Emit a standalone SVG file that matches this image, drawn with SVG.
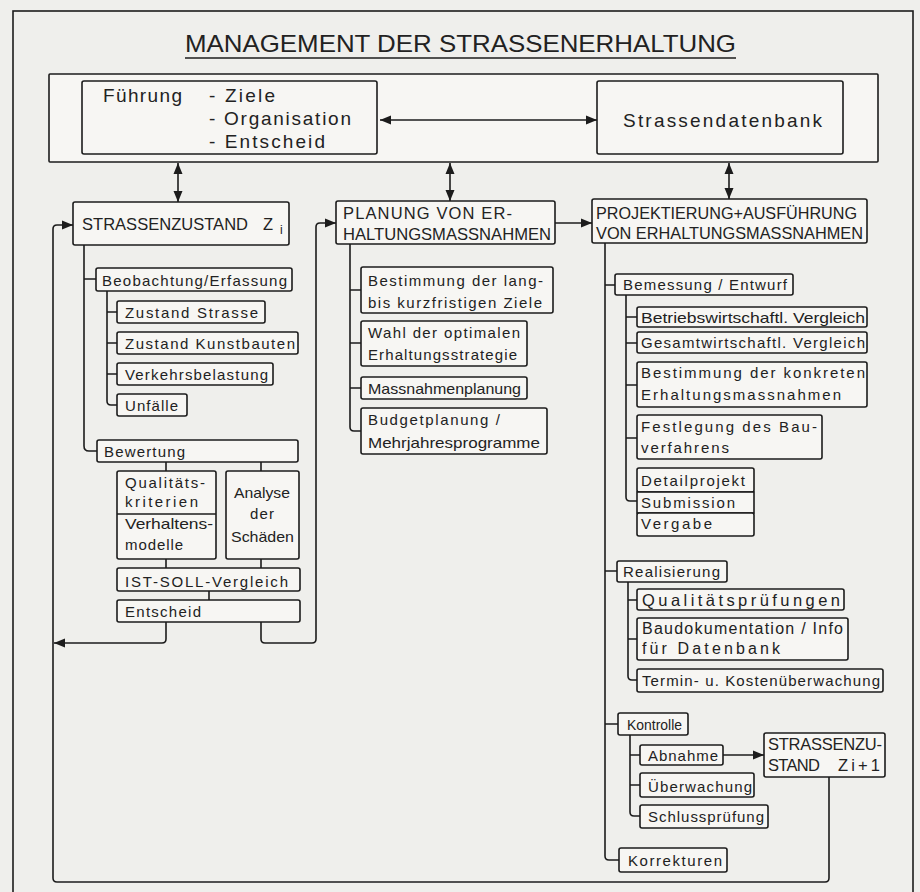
<svg xmlns="http://www.w3.org/2000/svg" width="920" height="892" viewBox="0 0 920 892">
<style>
.bx{fill:#f7f6f3;stroke:#1c1c1c;stroke-width:1.6}
.ln{fill:none;stroke:#1c1c1c;stroke-width:1.6}
.ar{fill:none;stroke:#1c1c1c;stroke-width:1.6;marker-end:url(#ah)}
.ar2{fill:none;stroke:#1c1c1c;stroke-width:1.6;marker-start:url(#ah);marker-end:url(#ah)}
text{font-family:"Liberation Sans",Arial,sans-serif;fill:#222;font-size:15px}
.h{font-size:16.5px}
.f{font-size:19px}
.ti{font-size:24px}
</style>
<defs>
<marker id="ah" markerWidth="12" markerHeight="10" refX="11" refY="5" orient="auto-start-reverse" markerUnits="userSpaceOnUse">
<path d="M0,0.5 L11,5 L0,9.5 z" fill="#1c1c1c"/>
</marker>
</defs>
<rect x="0" y="0" width="920" height="892" fill="#efefec"/>
<rect x="13" y="11" width="900" height="890" fill="none" stroke="#1c1c1c" stroke-width="1.6"/>
<g id="title">
<text class="ti" x="185" y="52" textLength="551" lengthAdjust="spacingAndGlyphs">MANAGEMENT DER STRASSENERHALTUNG</text>
<line class="ln" x1="185" y1="58" x2="736" y2="58"/>
</g>
<g id="management"><rect class="bx" x="49" y="74" width="829" height="88" rx="1"/></g>
<g id="fuehrung">
<rect class="bx" x="82" y="81" width="295" height="73" rx="2"/>
<text class="f" x="103" y="102" textLength="79" lengthAdjust="spacing">Führung</text>
<text class="f" x="209" y="102" textLength="66" lengthAdjust="spacing">- Ziele</text>
<text class="f" x="209" y="125" textLength="142" lengthAdjust="spacing">- Organisation</text>
<text class="f" x="209" y="148" textLength="116" lengthAdjust="spacing">- Entscheid</text>
</g>
<g id="datenbank">
<rect class="bx" x="597" y="81" width="246" height="73" rx="2"/>
<text class="f" x="623" y="127" textLength="199" lengthAdjust="spacing">Strassendatenbank</text>
</g>
<g id="zustand">
<rect class="bx" x="73" y="202" width="216" height="43" rx="2"/>
<text class="h" x="82" y="230" textLength="166" lengthAdjust="spacing">STRASSENZUSTAND</text>
<text class="h" x="263" y="230">Z</text>
<text x="280" y="234" style="font-size:12px">i</text>
</g>
<g id="planung">
<rect class="bx" x="336" y="201" width="219" height="43" rx="2"/>
<text class="h" x="343" y="219" textLength="169" lengthAdjust="spacing">PLANUNG VON ER-</text>
<text class="h" x="343" y="240" textLength="208" lengthAdjust="spacingAndGlyphs">HALTUNGSMASSNAHMEN</text>
</g>
<g id="projektierung">
<rect class="bx" x="592" y="199" width="275" height="44" rx="2"/>
<text class="h" x="596" y="219" textLength="261" lengthAdjust="spacingAndGlyphs">PROJEKTIERUNG+AUSFÜHRUNG</text>
<text class="h" x="596" y="239" textLength="267" lengthAdjust="spacingAndGlyphs">VON ERHALTUNGSMASSNAHMEN</text>
</g>
<g id="beobachtung">
<rect class="bx" x="96" y="268" width="196" height="23" rx="2"/>
<text x="102" y="286" textLength="185" lengthAdjust="spacing">Beobachtung/Erfassung</text>
</g>
<g id="zustand-strasse">
<rect class="bx" x="117" y="301" width="148" height="22" rx="2"/>
<text x="125" y="318" textLength="133" lengthAdjust="spacing">Zustand  Strasse</text>
</g>
<g id="zustand-kunstbauten">
<rect class="bx" x="117" y="332" width="181" height="22" rx="2"/>
<text x="125" y="349" textLength="170" lengthAdjust="spacing">Zustand  Kunstbauten</text>
</g>
<g id="verkehrsbelastung">
<rect class="bx" x="117" y="363" width="156" height="22" rx="2"/>
<text x="125" y="380" textLength="143" lengthAdjust="spacing">Verkehrsbelastung</text>
</g>
<g id="unfaelle">
<rect class="bx" x="117" y="394" width="70" height="22" rx="2"/>
<text x="125" y="411" textLength="53" lengthAdjust="spacing">Unfälle</text>
</g>
<g id="bewertung">
<rect class="bx" x="97" y="440" width="201" height="22" rx="2"/>
<text x="104" y="457" textLength="81" lengthAdjust="spacing">Bewertung</text>
</g>
<g id="kriterien-modelle">
<rect class="bx" x="117" y="471" width="99" height="88" rx="2"/>
<line class="ln" x1="117" y1="514" x2="216" y2="514"/>
<text x="125" y="488" textLength="80" lengthAdjust="spacing">Qualitäts-</text>
<text x="125" y="507" textLength="73" lengthAdjust="spacing">kriterien</text>
<text x="125" y="529" textLength="88" lengthAdjust="spacingAndGlyphs">Verhaltens-</text>
<text x="125" y="550" textLength="58" lengthAdjust="spacing">modelle</text>
</g>
<g id="analyse">
<rect class="bx" x="226" y="471" width="73" height="88" rx="2"/>
<text x="234" y="498" textLength="56" lengthAdjust="spacingAndGlyphs">Analyse</text>
<text x="250" y="519" textLength="24" lengthAdjust="spacing">der</text>
<text x="231" y="542" textLength="63" lengthAdjust="spacingAndGlyphs">Schäden</text>
</g>
<g id="ist-soll">
<rect class="bx" x="117" y="568" width="183" height="23" rx="2"/>
<text x="125" y="587" textLength="163" lengthAdjust="spacing">IST-SOLL-Vergleich</text>
</g>
<g id="entscheid">
<rect class="bx" x="117" y="600" width="183" height="22" rx="2"/>
<text x="125" y="617" textLength="76" lengthAdjust="spacing">Entscheid</text>
</g>
<g id="ziele">
<rect class="bx" x="361" y="267" width="192" height="46" rx="2"/>
<text x="368" y="286" textLength="175" lengthAdjust="spacing">Bestimmung der lang-</text>
<text x="368" y="308" textLength="174" lengthAdjust="spacing">bis kurzfristigen Ziele</text>
</g>
<g id="strategie">
<rect class="bx" x="361" y="321" width="166" height="45" rx="2"/>
<text x="368" y="338" textLength="152" lengthAdjust="spacing">Wahl der optimalen</text>
<text x="368" y="360" textLength="149" lengthAdjust="spacing">Erhaltungsstrategie</text>
</g>
<g id="massnahmenplanung">
<rect class="bx" x="361" y="377" width="166" height="22" rx="2"/>
<text x="368" y="394" textLength="153" lengthAdjust="spacingAndGlyphs">Massnahmenplanung</text>
</g>
<g id="budget">
<rect class="bx" x="361" y="408" width="186" height="46" rx="2"/>
<text x="368" y="425" textLength="132" lengthAdjust="spacing">Budgetplanung  /</text>
<text x="368" y="448" textLength="172" lengthAdjust="spacingAndGlyphs">Mehrjahresprogramme</text>
</g>
<g id="bemessung">
<rect class="bx" x="615" y="274" width="178" height="21" rx="2"/>
<text x="623" y="290" textLength="164" lengthAdjust="spacing">Bemessung / Entwurf</text>
</g>
<g id="betriebswirtschaftl">
<rect class="bx" x="637" y="307" width="230" height="20" rx="2"/>
<text x="641" y="323" textLength="224" lengthAdjust="spacingAndGlyphs">Betriebswirtschaftl. Vergleich</text>
</g>
<g id="gesamtwirtschaftl">
<rect class="bx" x="637" y="332" width="230" height="21" rx="2"/>
<text x="641" y="348" textLength="224" lengthAdjust="spacing">Gesamtwirtschaftl. Vergleich</text>
</g>
<g id="konkrete">
<rect class="bx" x="637" y="362" width="230" height="45" rx="2"/>
<text x="641" y="378" textLength="224" lengthAdjust="spacing">Bestimmung der konkreten</text>
<text x="641" y="400" textLength="200" lengthAdjust="spacing">Erhaltungsmassnahmen</text>
</g>
<g id="bauverfahren">
<rect class="bx" x="637" y="415" width="185" height="44" rx="2"/>
<text x="641" y="432" textLength="176" lengthAdjust="spacing">Festlegung des Bau-</text>
<text x="641" y="453" textLength="88" lengthAdjust="spacing">verfahrens</text>
</g>
<g id="detailprojekt">
<rect class="bx" x="637" y="468" width="117" height="24" rx="2"/>
<text x="641" y="486" textLength="104" lengthAdjust="spacing">Detailprojekt</text>
</g>
<g id="submission">
<rect class="bx" x="637" y="492" width="117" height="21"/>
<text x="641" y="508" textLength="94" lengthAdjust="spacing">Submission</text>
</g>
<g id="vergabe">
<rect class="bx" x="637" y="513" width="117" height="23" rx="2"/>
<text x="641" y="529" textLength="71" lengthAdjust="spacing">Vergabe</text>
</g>
<g id="realisierung">
<rect class="bx" x="617" y="561" width="110" height="21" rx="2"/>
<text x="623" y="577" textLength="97" lengthAdjust="spacing">Realisierung</text>
</g>
<g id="qualitaetspruefungen">
<rect class="bx" x="637" y="589" width="207" height="21" rx="2"/>
<text x="642" y="606" textLength="198" lengthAdjust="spacing" style="font-size:16.5px">Qualitätsprüfungen</text>
</g>
<g id="baudokumentation">
<rect class="bx" x="637" y="618" width="211" height="42" rx="2"/>
<text x="642" y="634" textLength="201" lengthAdjust="spacing" style="font-size:16px">Baudokumentation / Info</text>
<text x="642" y="654" textLength="138" lengthAdjust="spacing" style="font-size:16px">für  Datenbank</text>
</g>
<g id="termin">
<rect class="bx" x="637" y="669" width="246" height="23" rx="2"/>
<text x="642" y="686" textLength="238" lengthAdjust="spacing">Termin- u. Kostenüberwachung</text>
</g>
<g id="kontrolle">
<rect class="bx" x="618" y="713" width="70" height="22" rx="2"/>
<text x="627" y="730" textLength="55" lengthAdjust="spacingAndGlyphs">Kontrolle</text>
</g>
<g id="abnahme">
<rect class="bx" x="640" y="745" width="83" height="20" rx="2"/>
<text x="648" y="761" textLength="70" lengthAdjust="spacing">Abnahme</text>
</g>
<g id="zustand-i1">
<rect class="bx" x="764" y="733" width="121" height="44" rx="2"/>
<text class="h" x="768" y="750" textLength="114" lengthAdjust="spacing">STRASSENZU-</text>
<text class="h" x="768" y="771" textLength="52" lengthAdjust="spacing">STAND</text>
<text class="h" x="838" y="771" textLength="42" lengthAdjust="spacing">Zi+1</text>
</g>
<g id="ueberwachung">
<rect class="bx" x="640" y="773" width="114" height="24" rx="2"/>
<text x="648" y="792" textLength="104" lengthAdjust="spacing">Überwachung</text>
</g>
<g id="schlusspruefung">
<rect class="bx" x="640" y="805" width="128" height="23" rx="2"/>
<text x="648" y="822" textLength="116" lengthAdjust="spacing">Schlussprüfung</text>
</g>
<g id="korrekturen">
<rect class="bx" x="619" y="848" width="108" height="24" rx="2"/>
<text x="628" y="866" textLength="94" lengthAdjust="spacing">Korrekturen</text>
</g>
<g id="connectors">
<path class="ar2" d="M380,120 H597"/>
<path class="ar2" d="M178,163 V202"/>
<path class="ar2" d="M450,163 V201"/>
<path class="ar2" d="M729,163 V199"/>
<path class="ar" d="M555,223 H592"/>
<path class="ar" d="M723,755 H764"/>
<path class="ar" d="M829,777 V878 Q829,882 825,882 H57 Q53,882 53,878 V229 Q53,225 57,225 H73"/>
<path class="ar" d="M166,622 V639 Q166,643 162,643 H54"/>
<path class="ar" d="M261,622 V639 Q261,643 265,643 H312 Q316,643 316,639 V227 Q316,223 320,223 H336"/>
<path class="ln" d="M84,245 V446 Q84,451 89,451 H97 M84,279 H96"/>
<path class="ln" d="M107,291 V401 Q107,405 111,405 H117 M107,312 H117 M107,343 H117 M107,374 H117"/>
<path class="ln" d="M166,462 V471 M261,462 V471 M166,559 V568 M261,559 V568 M209,591 V600"/>
<path class="ln" d="M350,244 V427 Q350,431 354,431 H361 M350,290 H361 M350,343 H361 M350,388 H361"/>
<path class="ln" d="M605,243 V856 Q605,860 609,860 H619 M605,285 H615 M605,571 H617 M605,724 H618"/>
<path class="ln" d="M626,295 V497 Q626,501 630,501 H637 M626,317 H637 M626,343 H637 M626,385 H637 M626,438 H637"/>
<path class="ln" d="M628,582 V676 Q628,680 632,680 H637 M628,600 H637 M628,639 H637"/>
<path class="ln" d="M630,735 V812 Q630,816 634,816 H640 M630,755 H640 M630,785 H640"/>
</g>
</svg>
